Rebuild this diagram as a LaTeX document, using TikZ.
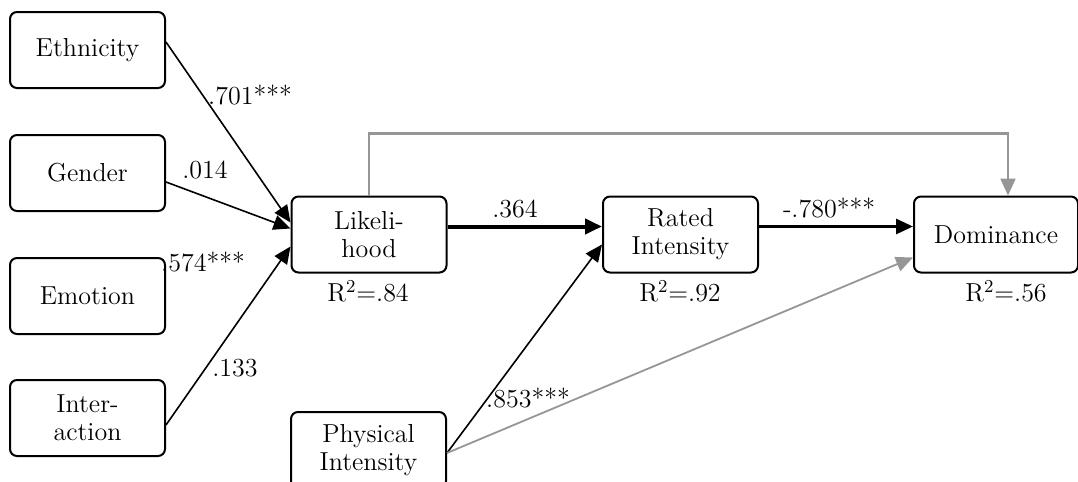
\documentclass[tikz,border=0pt]{standalone}
\usetikzlibrary{arrows.meta}

\definecolor{pathgray}{RGB}{150,150,150}

\tikzset{
	var/.style={draw, line width=1pt, rounded corners=3.5pt, minimum width=77.5pt, minimum height=38pt, inner sep=0pt, align=center, font=\fontsize{13}{14}\selectfont},
	coef/.style={inner sep=0pt, font=\fontsize{13}{14}\selectfont},
	effect/.style={-{Triangle[length=8.5pt,width=7.5pt]}, line width=0.8pt},
	greffect/.style={effect, draw=pathgray, line width=1.1pt}
}

\begin{document}
\begin{tikzpicture}[x=0.5pt, y=-0.5pt]
			
			\useasboundingbox (0,0) rectangle (1078,482);
			
			% predictors
			\node[var] (eth) at (87.5,50) {Ethnicity};
			\node[var] (gen) at (87.5,173) {Gender};
			\node[var] (emo) at (87.5,296) {Emotion};
			\node[var] (int) at (87.5,418) {Inter-\\action};
			\node[var] (phy) at (368.5,450) {Physical\\Intensity};
			
			% mediators and outcome
			\node[var] (lik) at (369,234.5) {Likeli-\\hood};
			\node[var] (rat) at (680.5,234.5) {Rated\\Intensity};
			\node[var, minimum width=82pt] (dom) at (996,234.5) {Dominance};
			
			% explained variance
			\node[coef] (r2lik) at (368,291) {R\textsuperscript{2}=.84};
			\node[coef] (r2rat) at (680,291) {R\textsuperscript{2}=.92};
			\node[coef] (r2dom) at (1006,291) {R\textsuperscript{2}=.56};
			
			% paths
			\draw[effect] ([yshift=4pt]eth.east) -- ([yshift=6pt]lik.west);
			\draw[effect] ([yshift=-4.5pt]gen.east) -- ([yshift=3pt]lik.west);
			\draw[effect] ([yshift=-3.5pt]int.east) -- ([yshift=-6pt]lik.west);
			\draw[effect, line width=2pt] ([yshift=4pt]lik.east) -- ([yshift=4pt]rat.west);
			\draw[effect, line width=1.5pt] ([yshift=4pt]rat.east) -- ([yshift=4pt]dom.west);
			\draw[effect] ([yshift=-1.5pt]phy.east) -- ([yshift=-5pt]rat.west);
			\draw[greffect, line width=0.9pt] ([yshift=-1.5pt]phy.east) -- ([yshift=-11.5pt]dom.west);
			\draw[greffect] (lik.north) -- ++(0,-62) -| ([xshift=6pt]dom.north);
			
			% coefficients
			\node[coef] (b1) at (250,95) {.701***};
			\node[coef] (b2) at (205,170) {.014};
			\node[coef] (b3) at (203,262) {.574***};
			\node[coef] (b4) at (235,368) {.133};
			\node[coef] (b5) at (515,209) {.364};
			\node[coef] (b6) at (829,208) {-.780***};
			\node[coef] (b7) at (528,398) {.853***};
			
		\end{tikzpicture}
\end{document}
